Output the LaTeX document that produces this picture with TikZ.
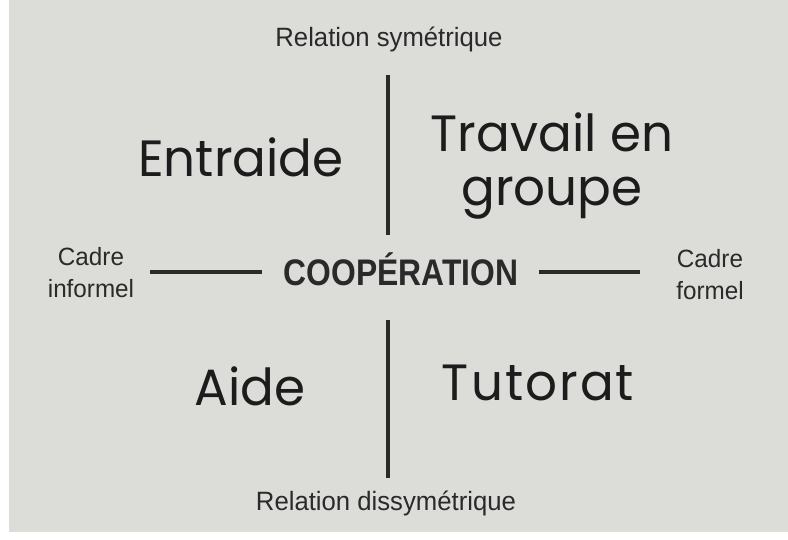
\documentclass[tikz,border=0pt]{standalone}
\usepackage{fontspec}
\setmainfont{Liberation Sans}
\newfontfamily\printfont[FakeStretch=0.97]{Liberation Sans}
\newfontfamily\boldprint[FakeStretch=0.86]{Liberation Sans Bold}
\newfontfamily\handfont[FakeStretch=0.98]{Poppins}
\definecolor{paper}{HTML}{DCDCD9}
\definecolor{ink}{HTML}{2A2A2A}
\definecolor{marker}{HTML}{1C1C1C}
\tikzset{
  printed/.style={font=\printfont\fontsize{26.5}{30}\selectfont, text=ink, inner sep=0pt, anchor=base},
  side/.style={font=\printfont\fontsize{25}{32}\selectfont, text=ink, inner sep=0pt, anchor=base},
  hand/.style={font=\handfont\fontsize{51}{60}\selectfont, text=marker, inner sep=0pt, anchor=base},
  rule/.style={draw=ink, line width=3.8pt},
}
\begin{document}
\begin{tikzpicture}[x=1pt,y=-1pt]
\useasboundingbox (0,0) rectangle (788,540);
\fill[white] (0,0) rectangle (788,540);
\fill[paper] (9,0) rectangle (788,532);
% printed labels
\node[printed] (top) at (389,47) {Relation symétrique};
\node[printed] (bot) at (386,510) {Relation dissymétrique};
\node[side] (left1) at (91,266) {Cadre};
\node[side] (left2) at (91,298) {informel};
\node[side] (right1) at (710,268) {Cadre};
\node[side] (right2) at (710,300) {formel};
\node[printed, font=\boldprint\fontsize{37}{40}\selectfont] (coop) at (401,286) {COOPÉRATION};
% handwritten labels
\node[hand] (entraide) at (241,177) {Entraide};
\node[hand] (travail) at (552,152) {Travail en};
\node[hand] (groupe) at (552,206) {groupe};
\node[hand] (aide) at (250,405) {Aide};
\node[hand, font=\handfont\addfontfeatures{LetterSpace=4}\fontsize{51}{60}\selectfont] (tutorat) at (538,400) {Tutorat};
% rules
\coordinate (vt1) at (388,75);
\coordinate (vt2) at (388,235);
\coordinate (vb1) at (388,320);
\coordinate (vb2) at (388,478);
\coordinate (hl1) at (150,272);
\coordinate (hl2) at (262,272);
\coordinate (hr1) at (539,272);
\coordinate (hr2) at (640,272);
\draw[rule] (vt1) -- (vt2);
\draw[rule] (vb1) -- (vb2);
\draw[rule] (hl1) -- (hl2);
\draw[rule] (hr1) -- (hr2);
\end{tikzpicture}
\end{document}
